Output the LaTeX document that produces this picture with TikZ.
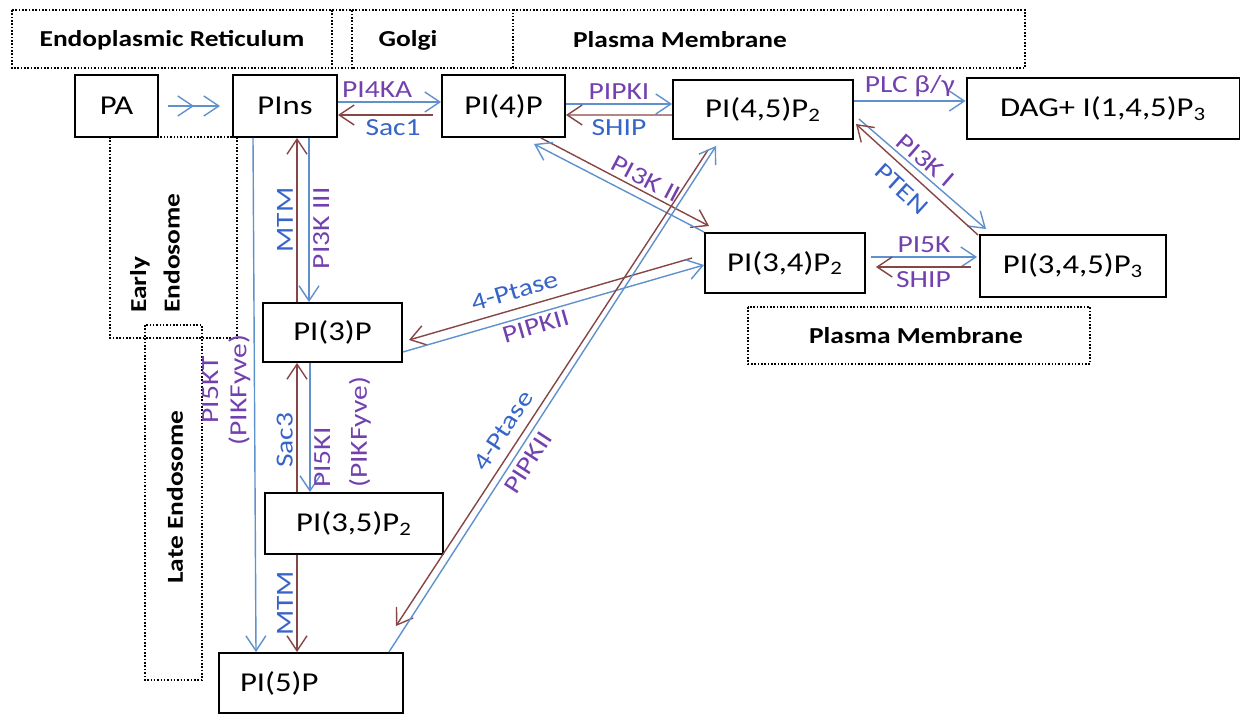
\documentclass[tikz,border=0pt]{standalone}
\usepackage{fontspec}
\setmainfont{Carlito}[FakeStretch=1.2]
\usepackage{xcolor}
\usepackage{tikz}
\usetikzlibrary{arrows.meta}
\usetikzlibrary{calc}
\definecolor{lineblue}{RGB}{95,145,205}
\definecolor{linebrown}{RGB}{135,70,70}
\definecolor{txtblue}{RGB}{55,100,200}
\definecolor{txtpurple}{RGB}{115,65,175}

\begin{document}
\begin{tikzpicture}[x=0.02cm, y=-0.02cm, >={Straight Barb[length=3mm,width=4mm]},
	box/.style={draw, line width=1.1pt, inner sep=0pt, font=\fontsize{15.5}{18}\selectfont},
	region/.style={draw, densely dotted, line width=0.9pt},
	rtext/.style={font=\fontsize{13}{15}\selectfont\bfseries},
	bl/.style={draw=lineblue, line width=0.8pt},
	br/.style={draw=linebrown, line width=0.8pt},
	tb/.style={text=txtblue, font=\fontsize{14}{16}\selectfont, inner sep=2pt},
	tp/.style={text=txtpurple, font=\fontsize{14}{16}\selectfont, inner sep=2pt}]
		\useasboundingbox (0,0) rectangle (1254,715);
		
		%regions
		\draw[region] (12,10) rectangle (352,68);
		\draw[region] (332,10) -- (332,68);
		\draw[region] (352,10) -- (513,10) -- (513,68) -- (352,68);
		\draw[region] (513,10) -- (1025,10) -- (1025,68) -- (513,68);
		\draw[region] (110,137) rectangle (237,338);
		\draw[region] (145,325) rectangle (202,680);
		\draw[region] (748,307) rectangle (1090,364);
		
		\node[rtext] (er) at (172,40) {Endoplasmic Reticulum};
		\node[rtext] (golgi) at (408,40) {Golgi};
		\node[rtext] (pmtop) at (680,40) {Plasma Membrane};
		\node[rtext, font=\fontsize{13}{19}\selectfont\bfseries, rotate=90, align=left] (early) at (155,253) {Early\\Endosome};
		\node[rtext, rotate=90] (late) at (175,497) {Late Endosome};
		\node[rtext] (pmbot) at (916,336) {Plasma Membrane};
		
		%nodes
		\node[box, minimum width=1.66cm, minimum height=1.24cm] (PA) at (116.5,106) {PA};
		\node[box, minimum width=2.08cm, minimum height=1.24cm] (PIns) at (285,106) {PIns};
		\node[box, minimum width=2.46cm, minimum height=1.24cm] (P4) at (503.5,106) {PI(4)P};
		\node[box, minimum width=3.6cm, minimum height=1.18cm] (P45) at (763,109.5) {PI(4,5)P\textsubscript{2}};
		\node[box, minimum width=5.46cm, minimum height=1.22cm] (DAG) at (1103,108.5) {DAG+ I(1,4,5)P\textsubscript{3}};
		\node[box, minimum width=3.2cm, minimum height=1.2cm] (P34) at (785,263) {PI(3,4)P\textsubscript{2}};
		\node[box, minimum width=3.72cm, minimum height=1.24cm] (P345) at (1073,266) {PI(3,4,5)P\textsubscript{3}};
		\node[box, minimum width=2.78cm, minimum height=1.18cm] (P3) at (332.5,332.5) {PI(3)P};
		\node[box, minimum width=3.56cm, minimum height=1.22cm] (P35) at (354,523.5) {PI(3,5)P\textsubscript{2}};
		\node[box, minimum height=1.2cm, text width=2.84cm, inner xsep=0.42cm, align=left] (P5) at (311,683) {PI(5)P};
		
		%top row
		\draw[bl, shorten <=0.18cm, shorten >=0.06cm, -{Straight Barb[length=3mm,width=4mm,sep=1.8mm]Straight Barb[length=3mm,width=4mm,sep=1.8mm]}] (PA) -- (PIns);
		\draw[bl,->] ($(PIns.east)+(0,-4)$) -- node[tp, above=0pt, pos=0.38] {PI4KA} ($(P4.west)+(0,-4)$);
		\draw[br,->] ($(P4.west)+(-8,9)$) -- node[tb, below, pos=0.42] {Sac1} ($(PIns.east)+(0,9)$);
		\draw[bl,->] ($(P4.east)+(0,-2)$) -- node[tp, above=0pt] {PIPKI} ($(P45.west)+(0,-5.5)$);
		\draw[br,->] ($(P45.west)+(0,5.5)$) -- node[tb, below] {SHIP} ($(P4.east)+(0,9)$);
		\draw[bl,->] ($(P45.east)+(0,-8.5)$) -- node[tp, above=0pt] {PLC β/γ} ($(DAG.west)+(0,-7.5)$);
		
		%diagonals
		\draw[br,->] ($(P4.south east)+(-25,0)$) -- node[tp, above, sloped, pos=0.59] {PI3K II} ($(P34.north west)+(5,-6)$);
		\draw[bl,->] (P34.north west) -- ($(P4.south east)+(-32,6)$);
		\draw[bl,->] ($(P45.east)+(5,9.5)$) -- node[tp, above=0pt, sloped, pos=0.46] {PI3K I} ($(P345.north west)+(7,-5)$);
		\draw[br,->] ($(P345.north west)+(-1,1)$) -- node[tb, below=3pt, sloped, pos=0.53] {PTEN} ($(P45.east)+(2,14.5)$);
		\draw[bl,->] ($(P34.east)+(5,-6)$) -- node[tp, above=0pt] {PI5K} ($(P345.west)+(-2,-9)$);
		\draw[br,->] ($(P345.west)+(-8,1)$) -- node[tp, below] {SHIP} ($(P34.east)+(10,4)$);
		\draw[br,->] ($(P34.west)+(-12,-5)$) -- node[tb, above=3pt, sloped, pos=0.61] {4-Ptase} ($(P3.east)+(6,7.5)$);
		\draw[bl,->] ($(P3.east)+(0,19.5)$) -- node[tp, below, sloped, pos=0.43] {PIPKII} ($(P34.west)+(0,2)$);
		\draw[br,->] ($(P45.south west)+(36,10)$) -- node[tb, above=3pt, sloped, pos=0.61] {4-Ptase} ($(P5.north east)+(-8,-26)$);
		\draw[bl,->] ($(P5.north east)+(-15,0)$) -- node[tp, below=1pt, sloped, pos=0.39] {PIPKII} ($(P45.south west)+(44,6)$);
		
		%verticals
		\draw[br,->] ($(P3.north)+(-35.5,0)$) -- node[tb, rotate=90, anchor=south] {MTM} ($(PIns.south)+(12,0)$);
		\draw[bl,->] ($(PIns.south)+(24,0)$) -- node[tp, rotate=90, anchor=north, pos=0.55] {PI3K III} ($(P3.north)+(-23.5,0)$);
		\draw[br,->] ($(P35.north)+(-57,0)$) -- node[tb, rotate=90, anchor=south, pos=0.4] {Sac3} ($(P3.south)+(-35.5,0)$);
		\draw[bl,->] ($(P3.south)+(-22.5,0)$) -- node[tp, font=\fontsize{14}{21}\selectfont, rotate=90, anchor=north west, align=left, pos=1] {PI5KI\\(PIKFyve)} ($(P35.north)+(-44,0)$);
		\draw[br,->] ($(P35.south)+(-57,0)$) -- node[tb, rotate=90, anchor=south] {MTM} ($(P5.north)+(-14,0)$);
		\draw[bl,->] ($(PIns.south)+(-32,0)$) -- node[tp, font=\fontsize{14}{16}\selectfont, rotate=90, anchor=south, pos=0.49, align=center] {PI5KT\\(PIKFyve)} ($(P5.north)+(-55,0)$);
\end{tikzpicture}
\end{document}
